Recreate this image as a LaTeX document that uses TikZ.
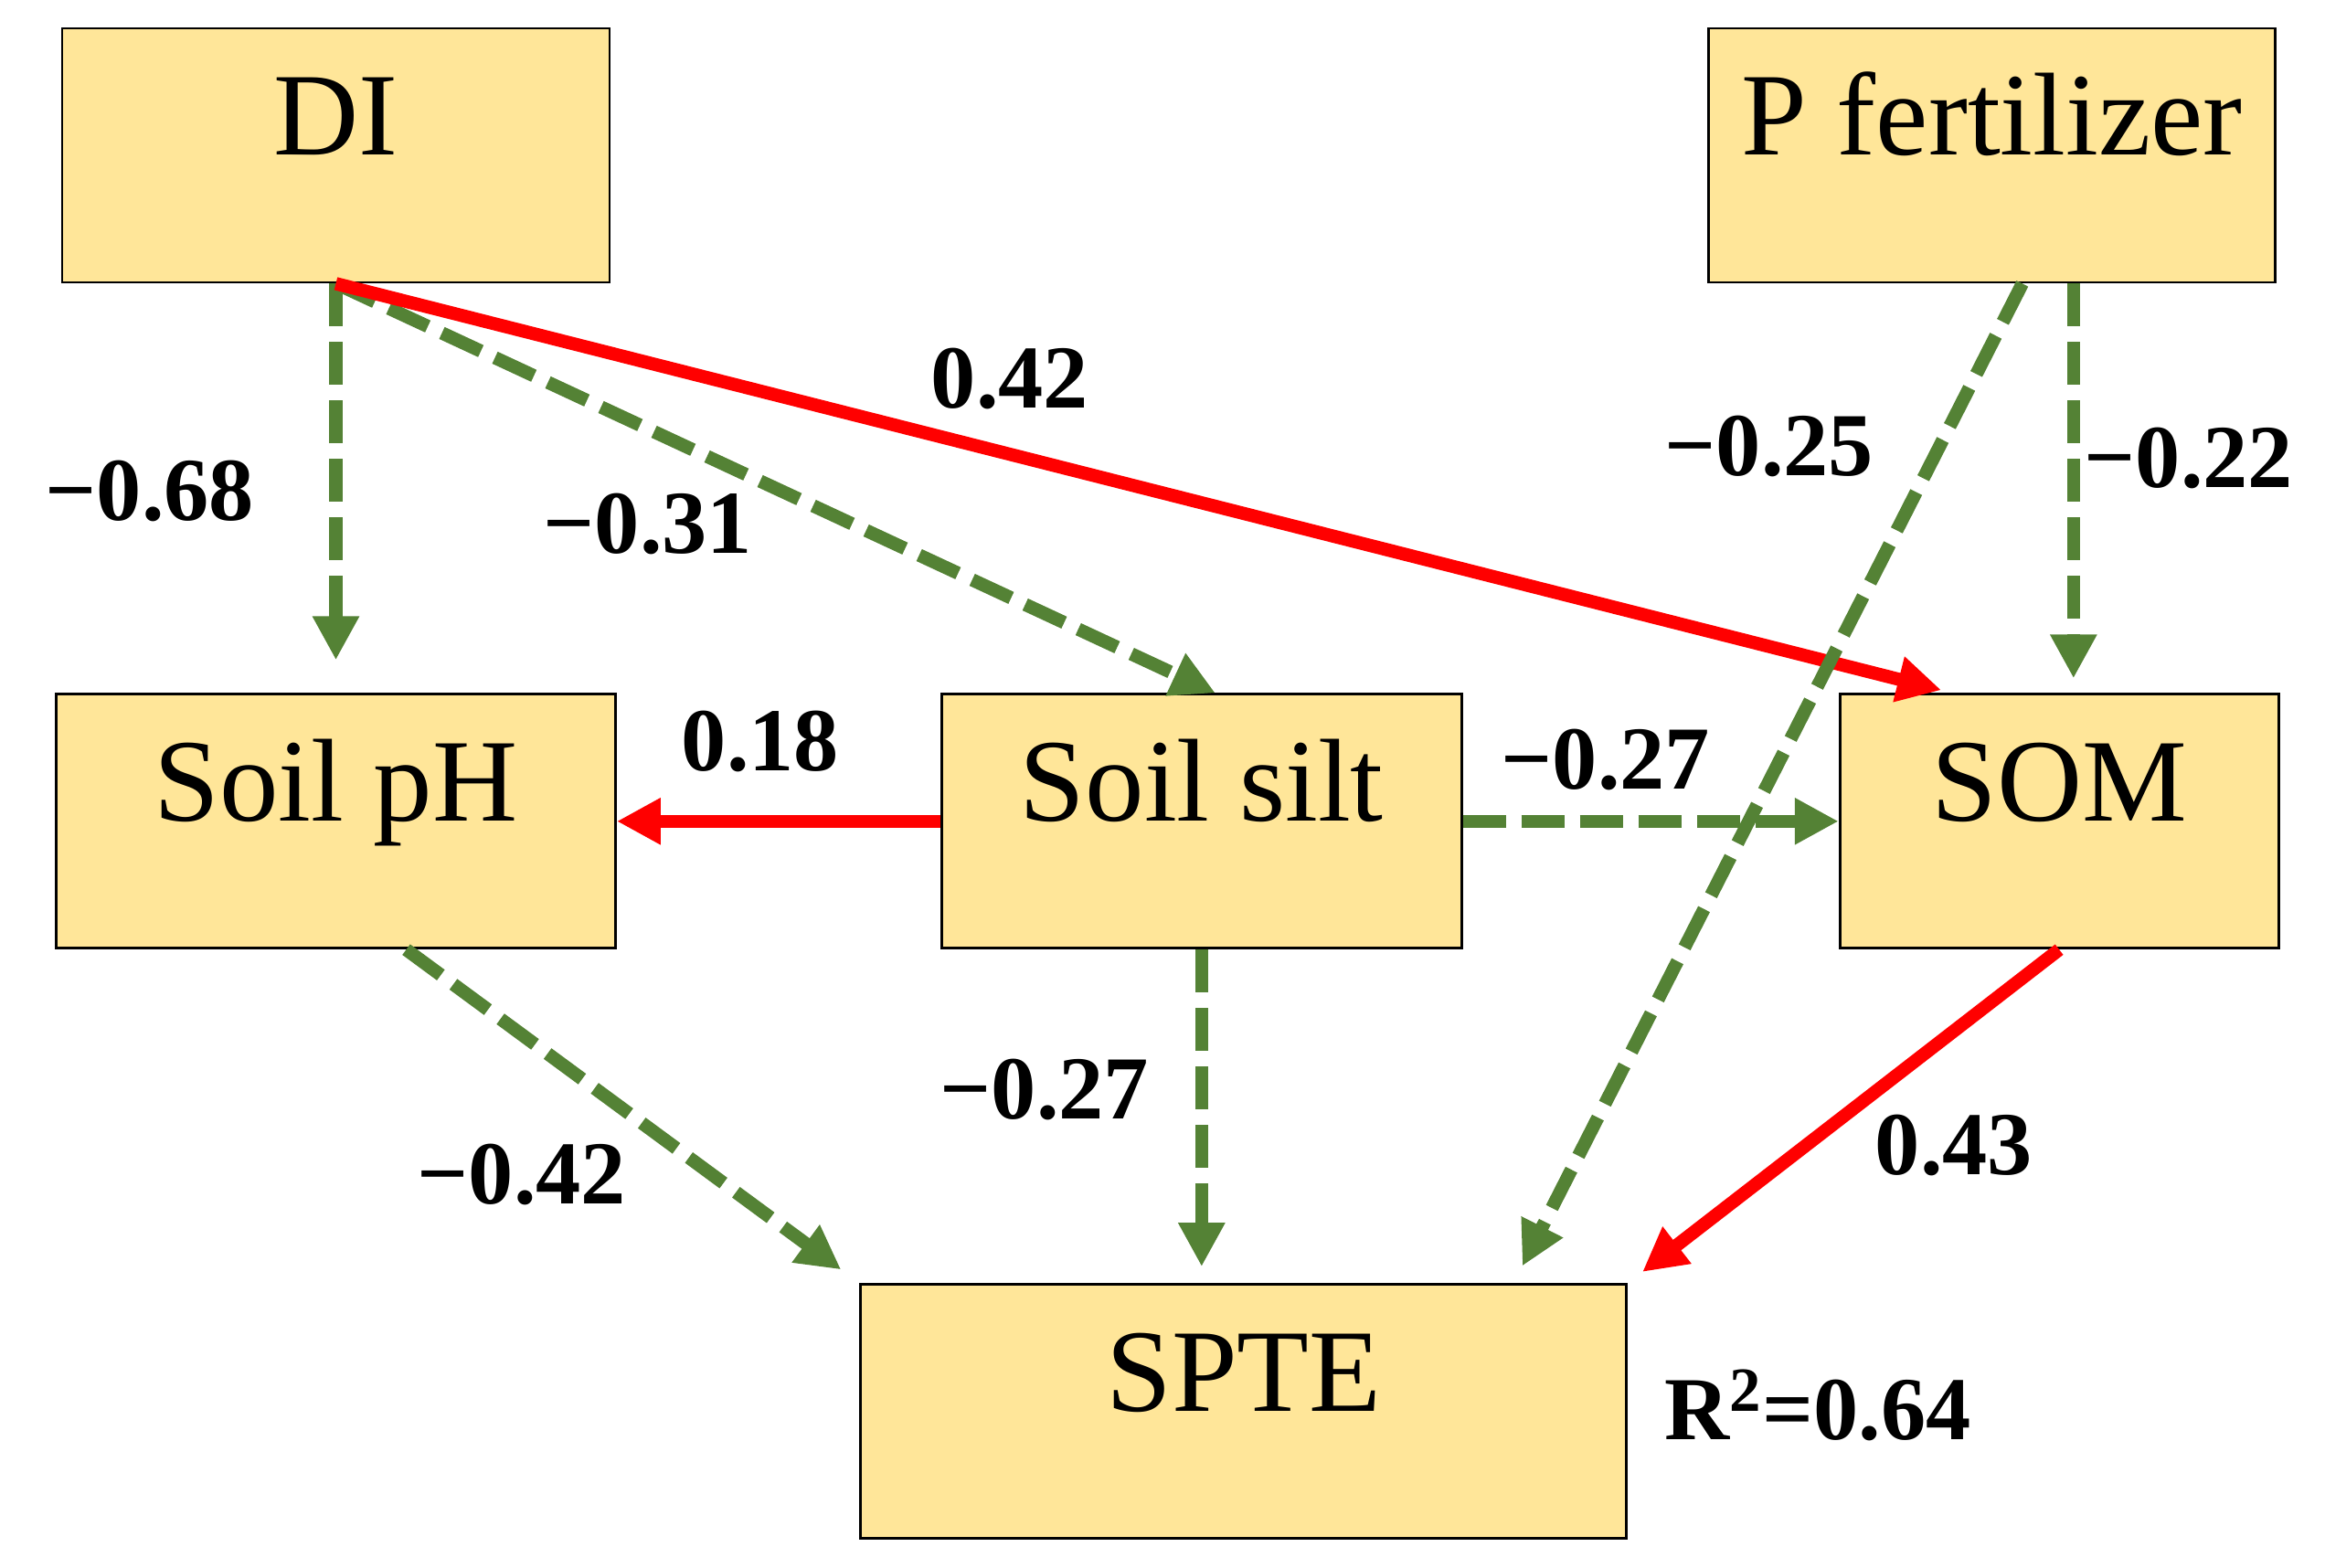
\documentclass[tikz,border=0pt]{standalone}
\usepackage{fontspec}
\setmainfont{Liberation Serif}
\usepackage{tikz}
\usetikzlibrary{positioning}
\usetikzlibrary{arrows.meta}
\definecolor{boxfill}{RGB}{255,230,153}
\definecolor{neggreen}{RGB}{84,130,53}
\definecolor{posred}{RGB}{255,0,0}
\tikzset{
	varbox/.style={draw=black,line width=0.8pt,fill=boxfill,inner sep=0pt,text height=1.39cm,text depth=1.39cm,font=\fontsize{36.7}{44}\selectfont},
	coef/.style={font=\fontsize{28}{34}\selectfont\bfseries,inner sep=0pt},
	posarrow/.style={draw=posred,line width=4.1pt,-{Triangle[width=0.48cm,length=0.48cm]}},
	negarrow/.style={draw=neggreen,line width=4.1pt,dash pattern=on 0.47cm off 0.17cm,-{Triangle[width=0.48cm,length=0.48cm]}},
}
\begin{document}
\begin{tikzpicture}
	\useasboundingbox (0,0) rectangle (25.44,17.15);
	%% boxes
	\node[varbox,minimum width=5.99cm] (DI) at (3.675,15.45) {DI};
	\node[varbox,minimum width=6.2cm,right=12cm of DI] (Pfert) {P fertilizer};
	\node[varbox,minimum width=6.12cm,below=4.48cm of DI] (pH) {Soil pH};
	\node[varbox,minimum width=5.69cm,right=3.54cm of pH] (silt) {Soil silt};
	\node[varbox,minimum width=4.8cm,right=4.11cm of silt] (SOM) {SOM};
	\node[varbox,minimum width=8.38cm,below=3.65cm of silt,xshift=0.46cm] (SPTE) {SPTE};
	% paths from DI
	\draw[negarrow,shorten >=0.36cm] (DI.south) -- (DI.south |- pH.north);
	\draw[negarrow] (DI.south) -- ([xshift=0.15cm]silt.north);
	\draw[posarrow,shorten >=0.13cm] (DI.south) -- ([xshift=1.25cm]SOM.north west);
	% paths from P fertilizer
	\draw[negarrow,shorten >=0.16cm] ([xshift=0.89cm]Pfert.south) -- ([xshift=0.89cm]Pfert.south |- SOM.north);
	\draw[negarrow,shorten >=0.21cm] ([xshift=0.33cm]Pfert.south) -- ([xshift=-1.25cm]SPTE.north east);
	% paths from Soil silt
	\draw[posarrow] (silt.west) -- (silt.west -| pH.east);
	\draw[negarrow] (silt.east) -- (SOM.west);
	\draw[negarrow,shorten >=0.18cm] (silt.south) -- (silt.south |- SPTE.north);
	% paths to SPTE
	\draw[negarrow,shorten >=0.25cm] ([xshift=0.77cm]pH.south) -- (SPTE.north west);
	\draw[posarrow,shorten >=0.2cm] (SOM.south) -- (SPTE.north east);
	%% coefficients
	\node[coef] (cDIpH) at (1.64,11.78) {−0.68};
	\node[coef] (cDIsilt) at (7.09,11.42) {−0.31};
	\node[coef] (cDISOM) at (11.05,13.01) {0.42};
	\node[coef] (cPSPTE) at (19.36,12.27) {−0.25};
	\node[coef] (cPSOM) at (23.95,12.14) {−0.22};
	\node[coef] (csiltpH) at (8.32,9.04) {0.18};
	\node[coef] (csiltSOM) at (17.57,8.84) {−0.27};
	\node[coef] (csiltSPTE) at (11.43,5.23) {−0.27};
	\node[coef] (cpHSPTE) at (5.71,4.30) {−0.42};
	\node[coef] (cSOMSPTE) at (21.38,4.62) {0.43};
	\node[coef] (rsq) at (19.89,1.77) {R\textsuperscript{2}=0.64};
\end{tikzpicture}
\end{document}
